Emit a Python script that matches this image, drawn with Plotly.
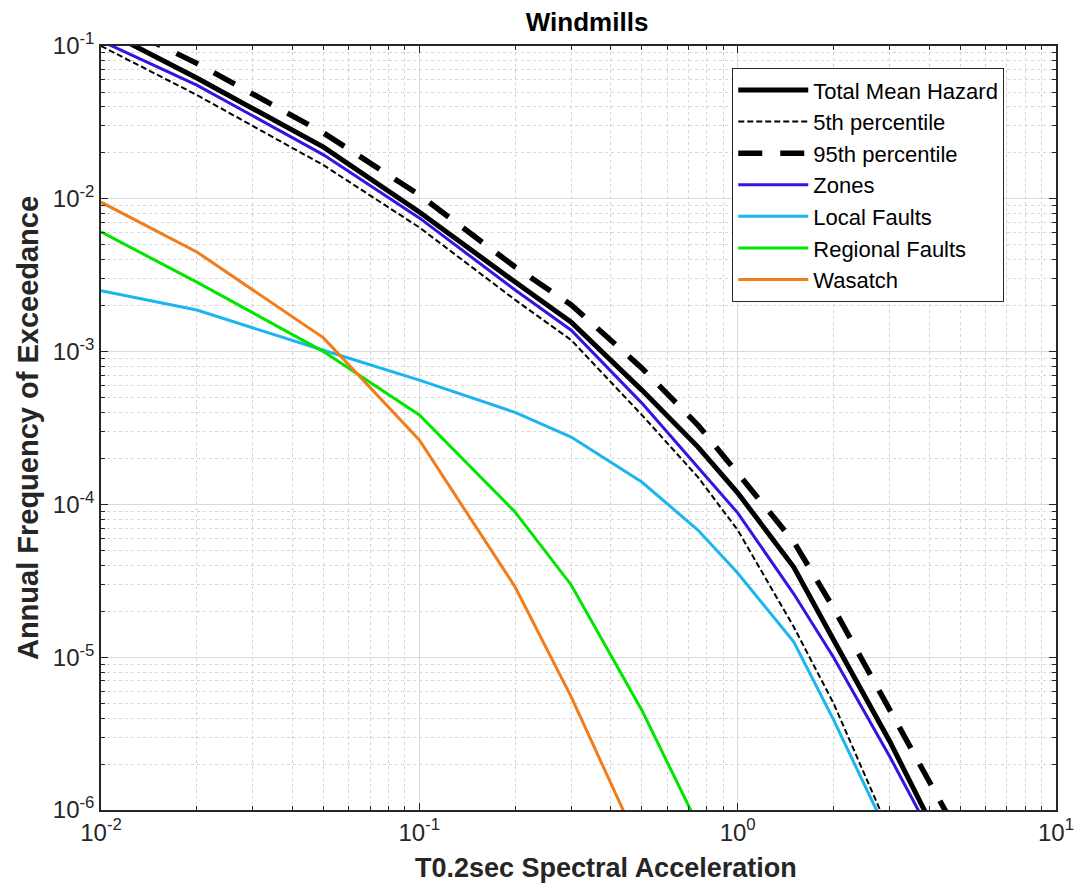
import plotly.graph_objects as go

# Spectral acceleration levels (g)
sa = [0.01, 0.02, 0.05, 0.1, 0.2, 0.3, 0.5, 0.75, 1.0, 1.5, 2.0, 3.0, 4.0, 5.0]

total_mean = [0.13, 0.0617, 0.0218, 0.0082, 0.00285, 0.00156, 5.6e-4, 2.38e-4, 1.19e-4, 3.89e-5, 1.3e-5, 2.83e-6, 8.6e-7, 2.5e-7]
pct5 = [0.1, 0.0478, 0.0166, 0.0065, 0.00218, 0.00119, 3.85e-4, 1.51e-4, 6.8e-5, 1.58e-5, 5.0e-6, 7.2e-7, 1.5e-7, 4e-8]
pct95 = [0.156, 0.077, 0.027, 0.0106, 0.00358, 0.00202, 7.8e-4, 3.31e-4, 1.6e-4, 5.7e-5, 2.1e-5, 4.65e-6, 1.57e-6, 6.6e-7]
zones = [0.108, 0.0555, 0.0194, 0.0075, 0.00253, 0.00138, 4.6e-4, 1.76e-4, 8.8e-5, 2.6e-5, 1.0e-5, 2.25e-6, 7.3e-7, 2.0e-7]
local_faults = [2.5e-3, 1.87e-3, 1.02e-3, 6.5e-4, 4.0e-4, 2.76e-4, 1.4e-4, 6.8e-5, 3.56e-5, 1.26e-5, 3.9e-6, 6.6e-7, 1.5e-7, 4e-8]
regional_faults = [6.07e-3, 2.85e-3, 1.0e-3, 3.85e-4, 8.9e-5, 2.97e-5, 4.5e-6, 8.0e-7, 1.5e-7, 2e-8, 4e-9, 1e-9, 1e-10, 1e-11]
wasatch = [9.5e-3, 4.49e-3, 1.23e-3, 2.64e-4, 2.88e-5, 5.5e-6, 5.4e-7, 5e-8, 1e-8, 1e-9, 1e-10, 1e-11, 1e-12, 1e-13]

x_tickvals = [0.01, 0.1, 1, 10]
x_ticktext = ["10<sup>-2</sup>", "10<sup>-1</sup>", "10<sup>0</sup>", "10<sup>1</sup>"]
y_tickvals = [1e-6, 1e-5, 1e-4, 1e-3, 1e-2, 1e-1]
y_ticktext = ["10<sup>-6</sup>", "10<sup>-5</sup>", "10<sup>-4</sup>", "10<sup>-3</sup>", "10<sup>-2</sup>", "10<sup>-1</sup>"]

series = [
    ("Total Mean Hazard", total_mean, dict(color="black", width=5)),
    ("5th percentile", pct5, dict(color="black", width=2, dash="6px,3px")),
    ("95th percentile", pct95, dict(color="black", width=5.5, dash="24px,18px")),
    ("Zones", zones, dict(color="#3514e0", width=3)),
    ("Local Faults", local_faults, dict(color="#1cb6ee", width=3)),
    ("Regional Faults", regional_faults, dict(color="#00e600", width=3)),
    ("Wasatch", wasatch, dict(color="#f07d1a", width=3)),
]

fig = go.Figure()
for name, vals, line in series:
    fig.add_trace(go.Scatter(x=sa, y=vals, mode="lines", name=name, line=line))

axis_color = "#262626"
font_family = "Liberation Sans, Arial, sans-serif"

common = dict(
    type="log",
    showline=True, linecolor=axis_color, linewidth=1.5, mirror="ticks",
    ticks="inside", ticklen=7, tickcolor=axis_color,
    showgrid=True, gridcolor="#d9d9d9", gridwidth=1,
    zeroline=False,
    tickfont=dict(size=24, color=axis_color, family=font_family),
    minor=dict(ticks="inside", ticklen=4, tickcolor=axis_color, showgrid=True,
               gridcolor="#d6d6d6", griddash="dot", gridwidth=1, dtick="D1"),
)

fig.update_xaxes(**common, range=[-2, 1], tickvals=x_tickvals, ticktext=x_ticktext)
fig.update_yaxes(**common, range=[-6, -1], tickvals=y_tickvals, ticktext=y_ticktext,
                 title=dict(text="<b>Annual Frequency of Exceedance</b>",
                            font=dict(size=29, color=axis_color, family=font_family), standoff=6))

fig.add_annotation(text="<b>T0.2sec Spectral Acceleration</b>", xref="paper", yref="paper",
                   x=0.5286, y=-0.076, xanchor="center", yanchor="middle", showarrow=False,
                   font=dict(size=27, color=axis_color, family=font_family))

fig.update_layout(
    width=1086, height=891,
    margin=dict(l=101, r=24, t=46, b=81),
    paper_bgcolor="white", plot_bgcolor="white",
    title=dict(text="<b>Windmills</b>", x=0.509, xref="paper", y=0.975, yref="container",
               yanchor="middle", xanchor="center",
               font=dict(size=26, color="black", family=font_family)),
    legend=dict(x=0.661, y=0.971, xanchor="left", yanchor="top",
                bgcolor="white", bordercolor=axis_color, borderwidth=1,
                font=dict(size=22, color="black", family=font_family),
                itemwidth=70, tracegroupgap=0),
    showlegend=True,
)

fig.write_html("out.html")
